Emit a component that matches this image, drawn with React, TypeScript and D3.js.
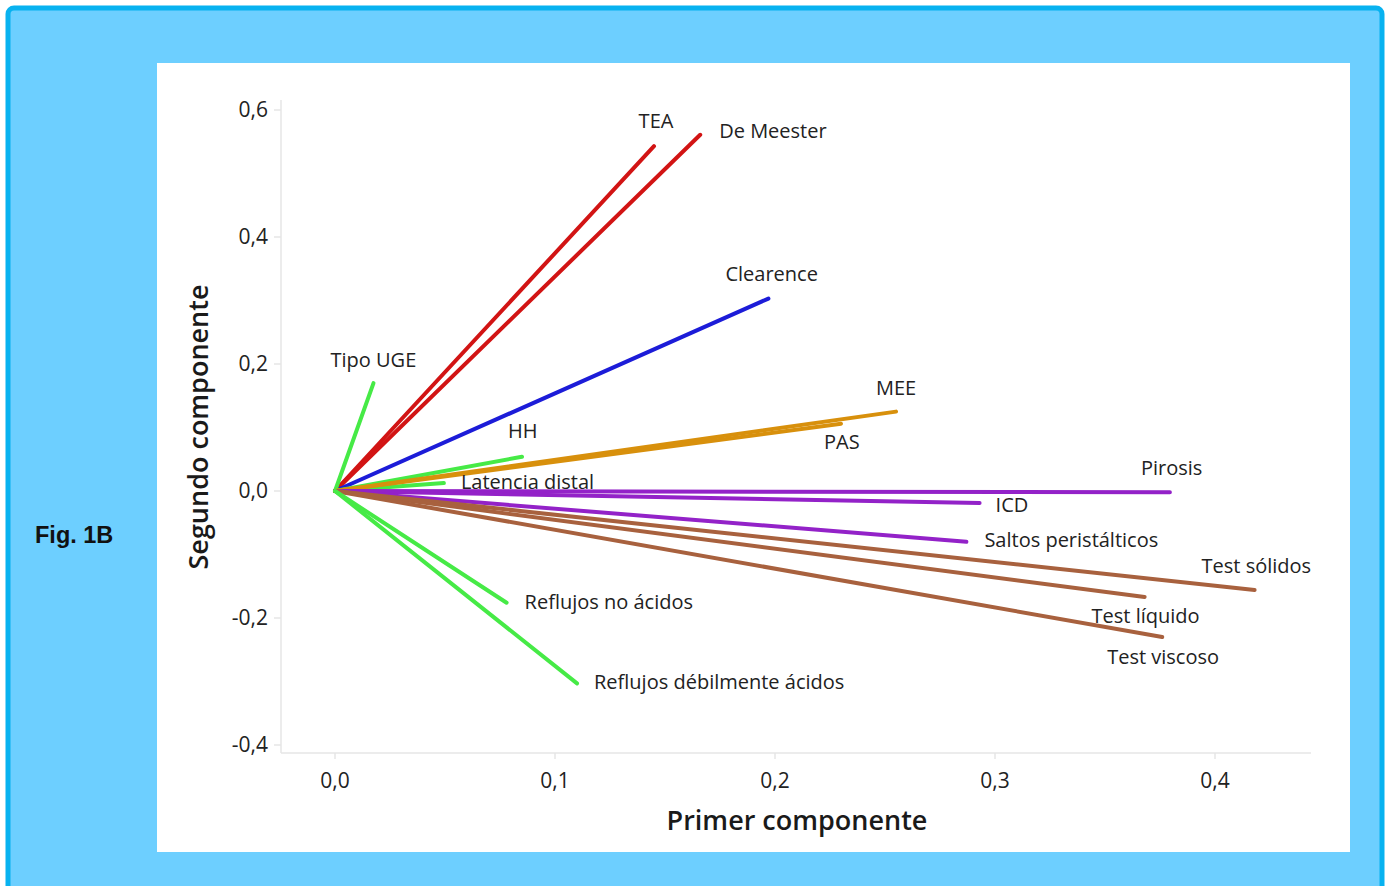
import React from "react";
import * as d3 from "d3";

// ---- data ----
const variables = [
  "TEA", "De Meester", "Clearence", "Tipo UGE", "HH", "Latencia distal",
  "MEE", "PAS", "Pirosis", "ICD", "Saltos peristálticos",
  "Test sólidos", "Test líquido", "Test viscoso",
  "Reflujos no ácidos", "Reflujos débilmente ácidos",
];
const pc1 = [0.145, 0.166, 0.197, 0.0175, 0.085, 0.0495, 0.255, 0.230, 0.3795, 0.293, 0.287, 0.418, 0.368, 0.376, 0.078, 0.110];
const pc2 = [0.543, 0.561, 0.303, 0.170, 0.054, 0.0125, 0.125, 0.106, -0.002, -0.019, -0.080, -0.156, -0.167, -0.230, -0.176, -0.303];
const groups = ["red", "red", "blue", "green", "green", "green", "orange", "orange", "purple", "purple", "purple", "brown", "brown", "brown", "green", "green"];
const xTicks = [0.0, 0.1, 0.2, 0.3, 0.4];
const yTicks = [-0.4, -0.2, 0.0, 0.2, 0.4, 0.6];

// ---- styles / layout ----
const groupColor: Record<string, string> = {
  red: "#d21414",
  blue: "#1c1cd8",
  green: "#46ea46",
  orange: "#d8900c",
  purple: "#9322c8",
  brown: "#a8613e",
};
// label offsets relative to vector endpoint [dx, dy, anchor]
const labelOffset: Record<string, [number, number, string]> = {
  "TEA": [2, -18, "middle"],
  "De Meester": [19, 3, "start"],
  "Clearence": [-43, -18, "start"],
  "Tipo UGE": [-43, -16, "start"],
  "HH": [-14, -19, "start"],
  "Latencia distal": [17, 6, "start"],
  "MEE": [-20, -17, "start"],
  "PAS": [-17, 25, "start"],
  "Pirosis": [-29, -17, "start"],
  "ICD": [16, 9, "start"],
  "Saltos peristálticos": [18, 5, "start"],
  "Test sólidos": [-53, -17, "start"],
  "Test líquido": [-53, 26, "start"],
  "Test viscoso": [-55, 27, "start"],
  "Reflujos no ácidos": [18, 6, "start"],
  "Reflujos débilmente ácidos": [17, 6, "start"],
};

const W = 1387, H = 886;
const FONT = "'Open Sans', 'Noto Sans', sans-serif";

export default function App() {
  const x = d3.scaleLinear().domain([0, 0.4]).range([335, 1215]);
  const y = d3.scaleLinear().domain([0, 0.6]).range([491, 110]);
  const axisX0 = 281, axisX1 = 1311, axisY0 = 100, axisY1 = 753;
  const gray = "#e6e6e6";
  const textColor = "#222222";

  const line = d3.line<[number, number]>().x(d => x(d[0])).y(d => y(d[1]));

  return (
    <svg width={W} height={H} style={{ position: "absolute", left: 0, top: 0 }}>
      <rect x={0} y={0} width={W} height={H} fill="#ffffff" />
      <rect x={8} y={8} width={1374} height={H + 20} rx={6} fill="#6dcfff" stroke="#08b2f0" strokeWidth={5} />
      <rect x={157} y={63} width={1193} height={789} fill="#ffffff" />
      <text x={35} y={543} fontFamily="'Liberation Sans', Arial, sans-serif" fontWeight="bold" fontSize={23.5} fill="#111">Fig. 1B</text>

      {/* axes */}
      <line x1={axisX0} y1={axisY0} x2={axisX0} y2={axisY1} stroke={gray} strokeWidth={1.5} />
      <line x1={axisX0} y1={axisY1} x2={axisX1} y2={axisY1} stroke={gray} strokeWidth={1.5} />
      {yTicks.map(t => (
        <g key={"y" + t}>
          <line x1={axisX0 - 7} x2={axisX0} y1={y(t)} y2={y(t)} stroke={gray} strokeWidth={1.5} />
          <text x={268} y={y(t) + 7} textAnchor="end" fontFamily={FONT} fontSize={21} fill={textColor}>
            {d3.format(".1f")(t).replace(".", ",").replace("−", "-")}
          </text>
        </g>
      ))}
      {xTicks.map(t => (
        <g key={"x" + t}>
          <line x1={x(t)} x2={x(t)} y1={axisY1} y2={axisY1 + 6} stroke={gray} strokeWidth={1.5} />
          <text x={x(t)} y={788} textAnchor="middle" fontFamily={FONT} fontSize={21} fill={textColor}>
            {d3.format(".1f")(t).replace(".", ",")}
          </text>
        </g>
      ))}
      <text x={797} y={830} textAnchor="middle" fontFamily={FONT} fontWeight={600} fontSize={27} fill="#1a1a1a">Primer componente</text>
      <text transform={`translate(208,427) rotate(-90)`} textAnchor="middle" fontFamily={FONT} fontWeight={600} fontSize={27} fill="#1a1a1a">Segundo componente</text>

      {/* vectors */}
      {variables.map((v, i) => (
        <path key={"l" + v} d={line([[0, 0], [pc1[i], pc2[i]]]) || ""} stroke={groupColor[groups[i]]} strokeWidth={4} fill="none" strokeLinecap="round" />
      ))}
      {variables.map((v, i) => {
        const o = labelOffset[v];
        return (
          <text key={"t" + v} x={x(pc1[i]) + o[0]} y={y(pc2[i]) + o[1]} textAnchor={o[2] as any} fontFamily={FONT} fontSize={20} fill={textColor}>{v}</text>
        );
      })}
    </svg>
  );
}
